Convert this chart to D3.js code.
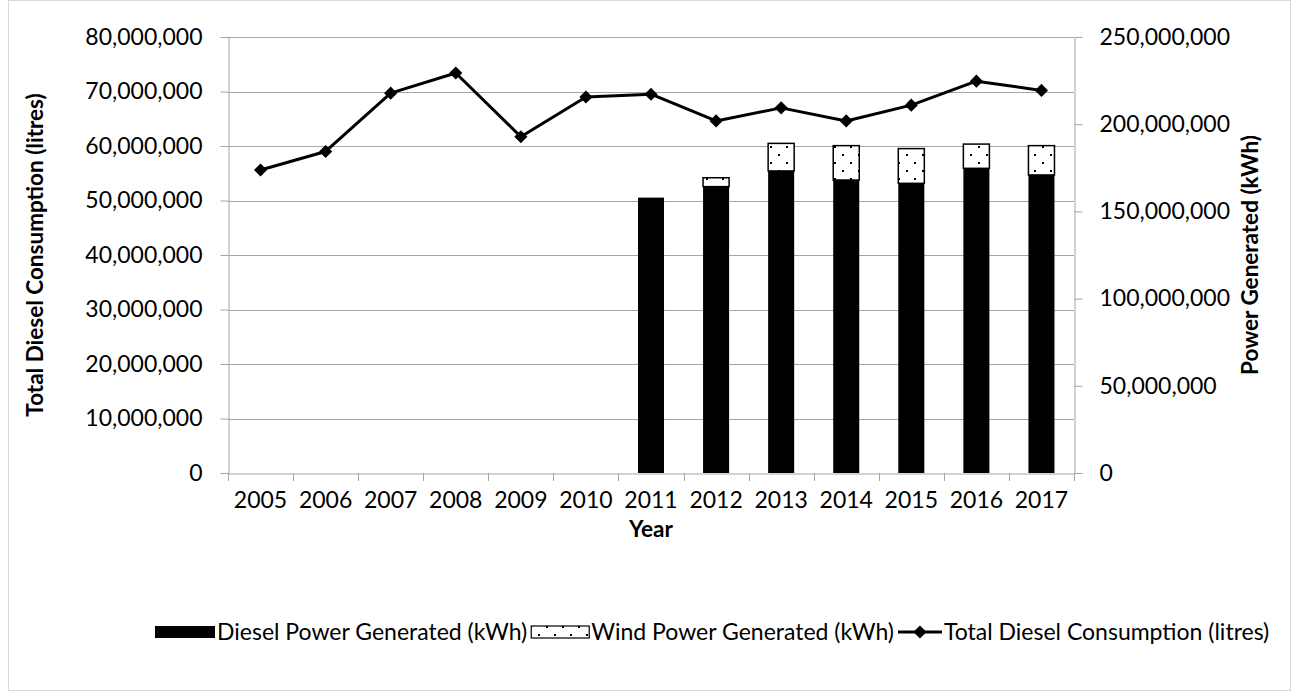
<!DOCTYPE html>
<html>
<head>
<meta charset="utf-8">
<script src="https://cdn.jsdelivr.net/npm/d3@7"></script>
<style>
  body { margin: 0; background: #fff; }
  text { font-family: Lato, "Open Sans", sans-serif; fill: #000; }
</style>
</head>
<body>
<svg id="chart"></svg>
<script>
const width = 1299;
const height = 700;

const years = ['2005','2006','2007','2008','2009','2010','2011','2012','2013','2014','2015','2016','2017'];
const dieselLitres = [55600000, 59000000, 69700000, 73400000, 61700000, 69000000, 69500000, 64600000, 67000000, 64600000, 67500000, 71900000, 70200000];
const dieselKwh = [null, null, null, null, null, null, 157900000, 164200000, 173200000, 168000000, 166100000, 174700000, 170900000];
const windKwh = [null, null, null, null, null, null, 0, 5100000, 15800000, 19700000, 19900000, 13900000, 16800000];
const leftTicks = [0, 10000000, 20000000, 30000000, 40000000, 50000000, 60000000, 70000000, 80000000];
const rightTicks = [0, 50000000, 100000000, 150000000, 200000000, 250000000];
const legendLabels = ['Diesel Power Generated (kWh)', 'Wind Power Generated (kWh)', 'Total Diesel Consumption (litres)'];

const plot = {left: 228, right: 1074, top: 37, bottom: 473};
const gridColor = '#a6a6a6';
const fontSize = '23px';
const titleSize = '22.5px';

const svg = d3.select('#chart').attr('width', width).attr('height', height);

// outer border
svg.append('rect')
  .attr('x', 8.5).attr('y', 0.5)
  .attr('width', 1282).attr('height', 690)
  .attr('fill', 'none').attr('stroke', '#d9d9d9');

const defs = svg.append('defs');
const pat = defs.append('pattern')
  .attr('id', 'dots')
  .attr('patternUnits', 'userSpaceOnUse')
  .attr('width', 16).attr('height', 16);
pat.append('rect').attr('width', 16).attr('height', 16).attr('fill', '#fff');
pat.append('rect').attr('x', 2).attr('y', 2).attr('width', 2).attr('height', 2).attr('fill', '#000');
pat.append('rect').attr('x', 10).attr('y', 10).attr('width', 2).attr('height', 2).attr('fill', '#000');

const x = d3.scaleBand().domain(years).range([plot.left, plot.right]).paddingInner(0.6).paddingOuter(0.3);
const xCenter = d => x(d) + x.bandwidth() / 2;
const yLeft = d3.scaleLinear().domain([0, 80000000]).range([plot.bottom, plot.top]);
const yRight = d3.scaleLinear().domain([0, 250000000]).range([plot.bottom, plot.top]);
const fmt = d3.format(',');

// gridlines
svg.append('g')
  .selectAll('line')
  .data(leftTicks.slice(1))
  .enter()
  .append('line')
  .attr('x1', plot.left).attr('x2', plot.right)
  .attr('y1', d => Math.round(yLeft(d)) + 0.5)
  .attr('y2', d => Math.round(yLeft(d)) + 0.5)
  .attr('stroke', gridColor).attr('stroke-width', 1);

// axes
const leftAxis = svg.append('g')
  .attr('transform', `translate(${plot.left + 0.5}, 0)`)
  .call(d3.axisLeft(yLeft).tickValues(leftTicks).tickFormat(fmt).tickSize(8).tickSizeOuter(0).tickPadding(18));
const rightAxis = svg.append('g')
  .attr('transform', `translate(${plot.right + 0.5}, 0)`)
  .call(d3.axisRight(yRight).tickValues(rightTicks).tickFormat(fmt).tickSize(8).tickSizeOuter(0).tickPadding(17));
[leftAxis, rightAxis].forEach(a => {
  a.selectAll('path, line').attr('stroke', gridColor);
  a.selectAll('text').style('font-size', fontSize);
});

const bottomAxis = svg.append('g')
  .attr('transform', `translate(0, ${plot.bottom + 0.5})`)
  .call(d3.axisBottom(x).tickSize(0).tickPadding(18));
bottomAxis.select('.domain').attr('stroke', gridColor);
bottomAxis.selectAll('text').style('font-size', fontSize);
// tick marks at category boundaries
const step = x.step();
svg.append('g')
  .selectAll('line')
  .data(d3.range(years.length + 1))
  .enter()
  .append('line')
  .attr('x1', i => Math.round(plot.left + i * step) + 0.5)
  .attr('x2', i => Math.round(plot.left + i * step) + 0.5)
  .attr('y1', plot.bottom).attr('y2', plot.bottom + 8)
  .attr('stroke', gridColor);

// stacked bars
const barData = years.map((yr, i) => ({yr, diesel: dieselKwh[i], wind: windKwh[i]})).filter(d => d.diesel != null);
svg.append('g')
  .selectAll('rect')
  .data(barData)
  .enter()
  .append('rect')
  .attr('x', d => x(d.yr))
  .attr('width', x.bandwidth())
  .attr('y', d => yRight(d.diesel))
  .attr('height', d => yRight(0) - yRight(d.diesel))
  .attr('fill', '#000');

svg.append('g')
  .selectAll('rect')
  .data(barData.filter(d => d.wind > 0))
  .enter()
  .append('rect')
  .attr('x', d => x(d.yr))
  .attr('width', x.bandwidth())
  .attr('y', d => yRight(d.diesel + d.wind))
  .attr('height', d => yRight(d.diesel) - yRight(d.diesel + d.wind))
  .attr('fill', 'url(#dots)')
  .attr('stroke', '#000').attr('stroke-width', 1.5);

// line
const lineData = years.map((yr, i) => ({yr, v: dieselLitres[i]}));
svg.append('path')
  .datum(lineData)
  .attr('fill', 'none')
  .attr('stroke', '#000')
  .attr('stroke-width', 3)
  .attr('stroke-linejoin', 'round')
  .attr('d', d3.line().x(d => xCenter(d.yr)).y(d => yLeft(d.v)));

const diamond = d3.symbol().type(d3.symbolDiamond2).size(110);
svg.append('g')
  .selectAll('path')
  .data(lineData)
  .enter()
  .append('path')
  .attr('transform', d => `translate(${xCenter(d.yr)}, ${yLeft(d.v)})`)
  .attr('d', diamond)
  .attr('fill', '#000');

// axis titles
svg.append('text')
  .attr('x', (plot.left + plot.right) / 2).attr('y', 537)
  .attr('text-anchor', 'middle')
  .style('font-size', titleSize).style('font-weight', 'bold')
  .text('Year');
svg.append('text')
  .attr('transform', `translate(43, ${(plot.top + plot.bottom) / 2}) rotate(-90)`)
  .attr('text-anchor', 'middle')
  .style('font-size', titleSize).style('font-weight', 'bold')
  .text('Total Diesel Consumption (litres)');
svg.append('text')
  .attr('transform', `translate(1258, ${(plot.top + plot.bottom) / 2}) rotate(-90)`)
  .attr('text-anchor', 'middle')
  .style('font-size', titleSize).style('font-weight', 'bold')
  .text('Power Generated (kWh)');

// legend: spans from x=155 to x=1269
const legendY = 632;
const legendLeft = 155, legendRight = 1269;
const legend = svg.append('g');
const kinds = ['black', 'dots', 'line'];
const patchW = [60, 58, 44];
const texts = legendLabels.map(l => legend.append('text')
  .attr('y', legendY + 8)
  .style('font-size', fontSize)
  .text(l));
const textW = texts.map(t => t.node().getComputedTextLength());
const used = d3.sum(patchW) + d3.sum(textW) + 3 * 2;
const gap = Math.max(4, (legendRight - legendLeft - used) / 2);
let lx = legendLeft;
kinds.forEach((kind, i) => {
  if (kind === 'line') {
    legend.append('line')
      .attr('x1', lx).attr('x2', lx + patchW[i])
      .attr('y1', legendY).attr('y2', legendY)
      .attr('stroke', '#000').attr('stroke-width', 3);
    legend.append('path')
      .attr('transform', `translate(${lx + patchW[i] / 2}, ${legendY})`)
      .attr('d', diamond).attr('fill', '#000');
  } else {
    legend.append('rect')
      .attr('x', lx).attr('y', legendY - 6)
      .attr('width', patchW[i]).attr('height', 12)
      .attr('fill', kind === 'black' ? '#000' : 'url(#dots)')
      .attr('stroke', kind === 'black' ? 'none' : '#000')
      .attr('stroke-width', 1.2);
  }
  lx += patchW[i] + 2;
  texts[i].attr('x', lx);
  lx += textW[i] + gap;
});
</script>
</body>
</html>
